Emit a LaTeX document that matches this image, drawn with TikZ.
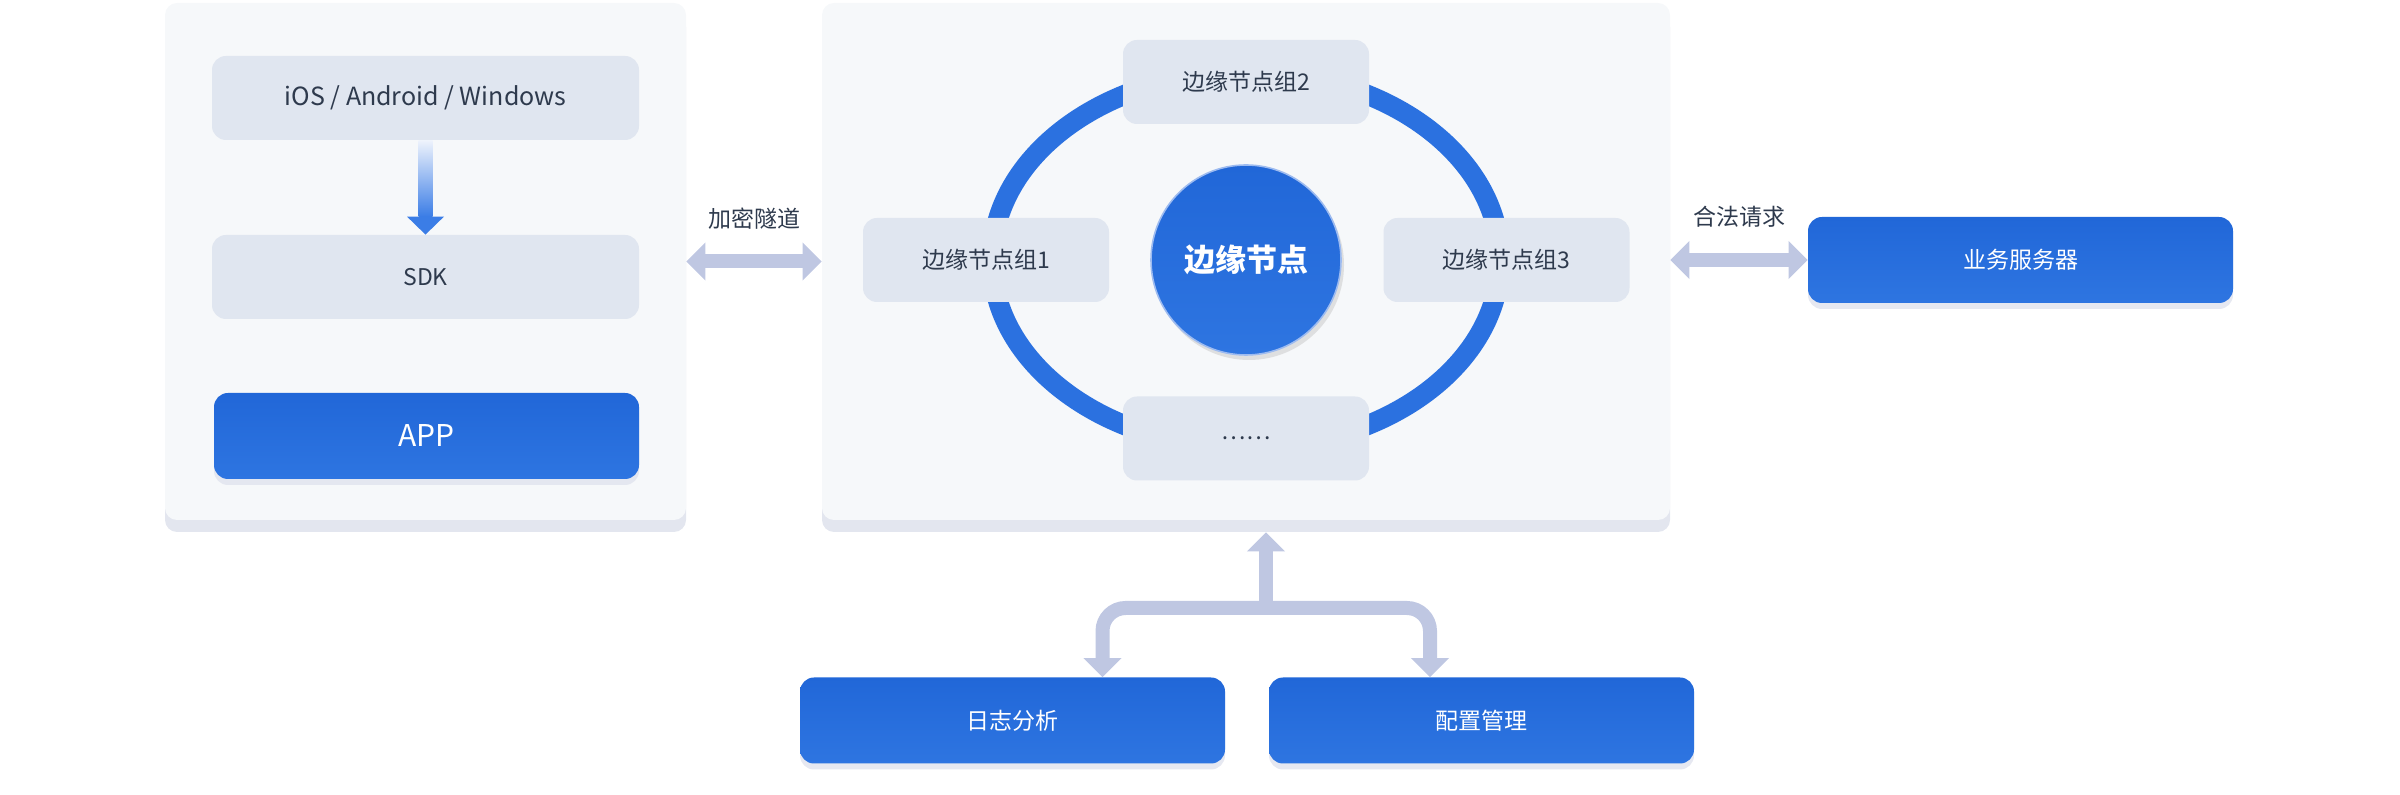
\documentclass[tikz,border=0pt]{standalone}
\usepackage{fontspec}
\setmainfont{Noto Sans CJK SC}
\definecolor{panelbg}{HTML}{F6F8FA}
\definecolor{panelshade}{HTML}{E3E6EF}
\definecolor{greybox}{HTML}{E0E6F0}
\definecolor{textdark}{HTML}{2E3A4D}
\definecolor{blueA}{HTML}{2167D8}
\definecolor{blueB}{HTML}{2E75E1}
\definecolor{ringblue}{HTML}{2B71E0}
\definecolor{coreedge}{HTML}{9DBBF0}
\definecolor{arrowgrey}{HTML}{BFC7E2}
\definecolor{flowtop}{HTML}{EEF3FC}
\definecolor{flowblue}{HTML}{3B7DE6}
\usetikzlibrary{arrows.meta, positioning, calc, shadows}

\begin{document}
\begin{tikzpicture}[x=0.5pt, y=-0.5pt,
    bigtip/.tip={Triangle[width=18.5pt, length=9.5pt]},
    panel/.style={fill=panelbg, rounded corners=6pt, minimum height=258.5pt,
        drop shadow={shadow xshift=0pt, shadow yshift=-6pt, fill=panelshade, opacity=1}},
    greynode/.style={fill=greybox, rounded corners=7pt, text=textdark, minimum width=123pt, minimum height=42pt, font=\fontsize{11.5}{14}\selectfont},
    bluenode/.style={top color=blueA, bottom color=blueB, rounded corners=7pt, text=white, minimum width=212.5pt, minimum height=43pt, font=\fontsize{11.5}{14}\selectfont,
        drop shadow={shadow xshift=0pt, shadow yshift=-3pt, fill=panelshade, opacity=0.9}},
    lbl/.style={text=textdark, font=\fontsize{11.5}{14}\selectfont},
    fatarrow/.style={line width=7pt, draw=arrowgrey, bigtip-bigtip},
    linkarrow/.style={line width=7pt, draw=arrowgrey, rounded corners=11.5pt}]
    \useasboundingbox (0,0) rectangle (2400,795);

    % Client side
    \node[panel, minimum width=260.5pt] (client) at (425.5,261.5) {};
    \node[greynode, minimum width=213.5pt, font=\fontsize{12.5}{15}\selectfont] (os) at (425.5,98) {iOS / Android / Windows};
    \node[greynode, minimum width=213.5pt] (sdk) at (425.5,277) {SDK};
    \node[bluenode, font=\fontsize{15}{18}\selectfont] (app) at (426.5,436) {APP};
    \shade[top color=flowtop, bottom color=flowblue] ($(os.south)+(-7,0)$) rectangle ($(sdk.north)+(7,-18)$);
    \fill[flowblue] ($(sdk.north)+(-18.5,-18)$) -- ($(sdk.north)+(18.5,-18)$) -- (sdk.north) -- cycle;

    % Edge node groups
    \node[panel, minimum width=424pt] (edge) at (1246,261.5) {};
    \draw[ringblue, line width=10pt] (1246,260) ellipse [x radius=254, y radius=188];
    \node[greynode] (grp2) at (1246,82) {边缘节点组2};
    \node[greynode] (grp1) at (986,260) {边缘节点组1};
    \node[greynode] (grp3) at (1506.5,260) {边缘节点组3};
    \node[greynode] (grpmore) at (1246,438.5) {……};
    \node[circle, minimum size=95pt, top color=blueA, bottom color=blueB, draw=coreedge, line width=0.8pt, text=white,
        font=\fontsize{15.5}{18}\selectfont\bfseries,
        drop shadow={shadow xshift=1.5pt, shadow yshift=-2.5pt, fill=black!30, opacity=0.35}] (core) at (1246,260) {边缘节点};

    % Servers
    \node[bluenode] (server) at (2020.5,260) {业务服务器};
    \node[bluenode] (log) at (1012.5,720.5) {日志分析};
    \node[bluenode] (cfg) at (1481.5,720.5) {配置管理};

    % Links
    \draw[fatarrow] (client.east) -- (edge.west) node[lbl, midway, yshift=21.5pt] (tunnel) {加密隧道};
    \draw[fatarrow] (edge.east |- server.west) -- (server.west) node[lbl, midway, yshift=21.5pt] (legal) {合法请求};
    \coordinate (fork) at (1266,608);
    \draw[linkarrow, -bigtip] (fork) -- ($(fork |- edge.south)+(0,12)$);
    \draw[linkarrow, -bigtip] (fork) -| ($(log.north)+(90,0)$);
    \draw[linkarrow, -bigtip] (fork) -| ($(cfg.north)+(-51.5,0)$);
\end{tikzpicture}
\end{document}
